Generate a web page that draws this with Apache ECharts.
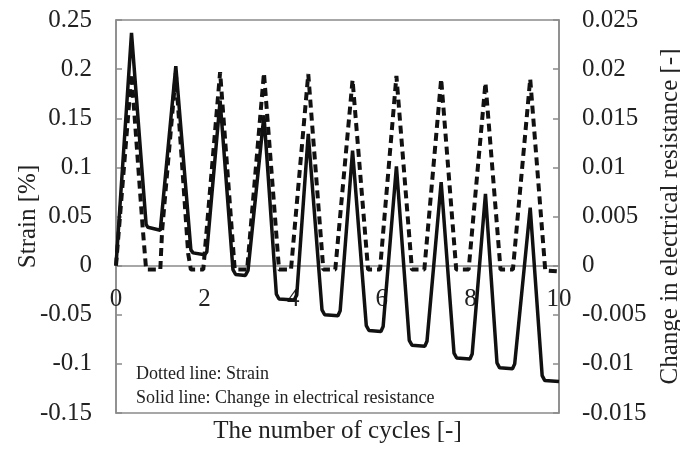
<!DOCTYPE html>
<html>
<head>
<meta charset="utf-8">
<script src="https://cdn.jsdelivr.net/npm/echarts@6/dist/echarts.min.js"></script>
<style>html,body{margin:0;padding:0;background:#fff}#c{width:680px;height:452px}</style>
</head>
<body>
<div id="c"></div>
<script>
// Strain (dotted line), left axis [%]
var strainX = [0, 0.35, 0.6, 0.68, 1.0, 1.04, 1.35, 1.63, 1.69, 1.97, 2.35, 2.68, 2.96, 3.34, 3.68, 3.95, 4.34, 4.68, 4.95, 5.34, 5.69, 5.96, 6.33, 6.68, 6.96, 7.34, 7.68, 7.96, 8.34, 8.68, 8.96, 9.35, 9.69, 10.0];
var strainY = [0, 0.195, 0.04, -0.004, -0.004, 0.035, 0.196, 0.012, -0.004, -0.004, 0.197, -0.004, -0.004, 0.196, -0.004, -0.004, 0.195, -0.004, -0.004, 0.189, -0.004, -0.004, 0.193, -0.004, -0.004, 0.19, -0.004, -0.004, 0.186, -0.004, -0.004, 0.19, -0.005, -0.006];
// Change in electrical resistance (solid line), right axis [-]
var resX = [0, 0.35, 0.68, 0.72, 1.0, 1.04, 1.35, 1.69, 1.74, 2.0, 2.05, 2.35, 2.64, 2.7, 2.92, 2.98, 3.34, 3.62, 3.68, 4.02, 4.08, 4.34, 4.65, 4.71, 5.01, 5.06, 5.34, 5.65, 5.71, 5.98, 6.03, 6.33, 6.62, 6.68, 6.97, 7.02, 7.34, 7.63, 7.69, 7.99, 8.04, 8.34, 8.6, 8.66, 8.95, 9.0, 9.35, 9.62, 9.68, 10.0];
var resY = [0, 0.0237, 0.0042, 0.0039, 0.0036, 0.0038, 0.0203, 0.0016, 0.0013, 0.0011, 0.0014, 0.0168, -0.0004, -0.0009, -0.0010, -0.0005, 0.0153, -0.0029, -0.0034, -0.0035, -0.0030, 0.0134, -0.0045, -0.0050, -0.0051, -0.0046, 0.0117, -0.0061, -0.0066, -0.0067, -0.0062, 0.0101, -0.0076, -0.0081, -0.0082, -0.0077, 0.0085, -0.0089, -0.0094, -0.0095, -0.0090, 0.0073, -0.0099, -0.0104, -0.0105, -0.0100, 0.0059, -0.0112, -0.0117, -0.0118];
var xTicks = [0, 2, 4, 6, 8, 10];
var leftTicks = [-0.15, -0.1, -0.05, 0, 0.05, 0.1, 0.15, 0.2, 0.25];
var rightTicks = [-0.015, -0.01, -0.005, 0, 0.005, 0.01, 0.015, 0.02, 0.025];
var xTitle = 'The number of cycles [-]';
var leftTitle = 'Strain [%]';
var rightTitle = 'Change in electrical resistance [-]';
var notes = ['Dotted line: Strain', 'Solid line: Change in electrical resistance'];

function zip(a, b) { return a.map(function (v, i) { return [v, b[i]]; }); }
function fmt(v) { return String(+(+v).toFixed(4)); }

var FONT = 'Liberation Serif';
var TXT = '#222';
var AX = '#8a8a8a';
var GRID = { left: 116, right: 121, top: 20, bottom: 39 };
var plotH = 452 - GRID.top - GRID.bottom;
var yMin = leftTicks[0], yMax = leftTicks[leftTicks.length - 1];
var zeroOffset = -plotH * (0 - yMin) / (yMax - yMin);

var chart = echarts.init(document.getElementById('c'), null, { renderer: 'canvas' });
chart.setOption({
  animation: false,
  backgroundColor: '#fff',
  textStyle: { fontFamily: FONT },
  grid: { left: GRID.left, right: GRID.right, top: GRID.top, bottom: GRID.bottom, show: true, borderColor: AX, borderWidth: 1.5, containLabel: false, outerBoundsMode: 'none' },
  xAxis: {
    type: 'value', min: xTicks[0], max: xTicks[xTicks.length - 1], interval: 2,
    position: 'bottom', offset: zeroOffset,
    axisLine: { show: true, onZero: false, lineStyle: { color: AX, width: 1.5 } },
    axisTick: { show: false },
    splitLine: { show: false },
    axisLabel: { color: TXT, fontSize: 25, fontFamily: FONT, margin: 21, formatter: fmt, hideOverlap: false }
  },
  yAxis: [{
    type: 'value', min: yMin, max: yMax, interval: 0.05,
    name: leftTitle, nameLocation: 'middle', nameGap: 75, nameRotate: 90, nameMoveOverlap: false,
    nameTextStyle: { color: TXT, fontSize: 25, fontFamily: FONT },
    axisLine: { show: true, onZero: false, lineStyle: { color: AX, width: 1.5 } },
    axisTick: { show: true, inside: true, length: 6, lineStyle: { color: AX, width: 1.5 } },
    splitLine: { show: false },
    axisLabel: { color: TXT, fontSize: 25, fontFamily: FONT, margin: 24, formatter: fmt }
  }, {
    type: 'value', position: 'right', min: rightTicks[0], max: rightTicks[rightTicks.length - 1], interval: 0.005,
    name: rightTitle, nameLocation: 'middle', nameGap: 97, nameRotate: 90,
    nameTextStyle: { color: TXT, fontSize: 25, fontFamily: FONT },
    axisLine: { show: true, onZero: false, lineStyle: { color: AX, width: 1.5 } },
    axisTick: { show: true, inside: true, length: 6, lineStyle: { color: AX, width: 1.5 } },
    splitLine: { show: false },
    axisLabel: { color: TXT, fontSize: 25, fontFamily: FONT, margin: 23, formatter: fmt }
  }],
  graphic: [
    { type: 'text', x: 337.5, y: 431, style: { text: xTitle, fill: TXT, font: '25px "' + FONT + '"', textAlign: 'center', textVerticalAlign: 'middle' } },
    { type: 'text', x: 136, y: 374, style: { text: notes[0], fill: TXT, font: '18px "' + FONT + '"', textVerticalAlign: 'middle' } },
    { type: 'text', x: 136, y: 398, style: { text: notes[1], fill: TXT, font: '18px "' + FONT + '"', textVerticalAlign: 'middle' } }
  ],
  series: [{
    type: 'line', yAxisIndex: 0, data: zip(strainX, strainY), symbol: 'none',
    lineStyle: { color: '#111', width: 4, type: [8, 5] }, z: 3
  }, {
    type: 'line', yAxisIndex: 1, data: zip(resX, resY), symbol: 'none',
    lineStyle: { color: '#111', width: 3.5 }, z: 4
  }]
});
</script>
</body>
</html>
